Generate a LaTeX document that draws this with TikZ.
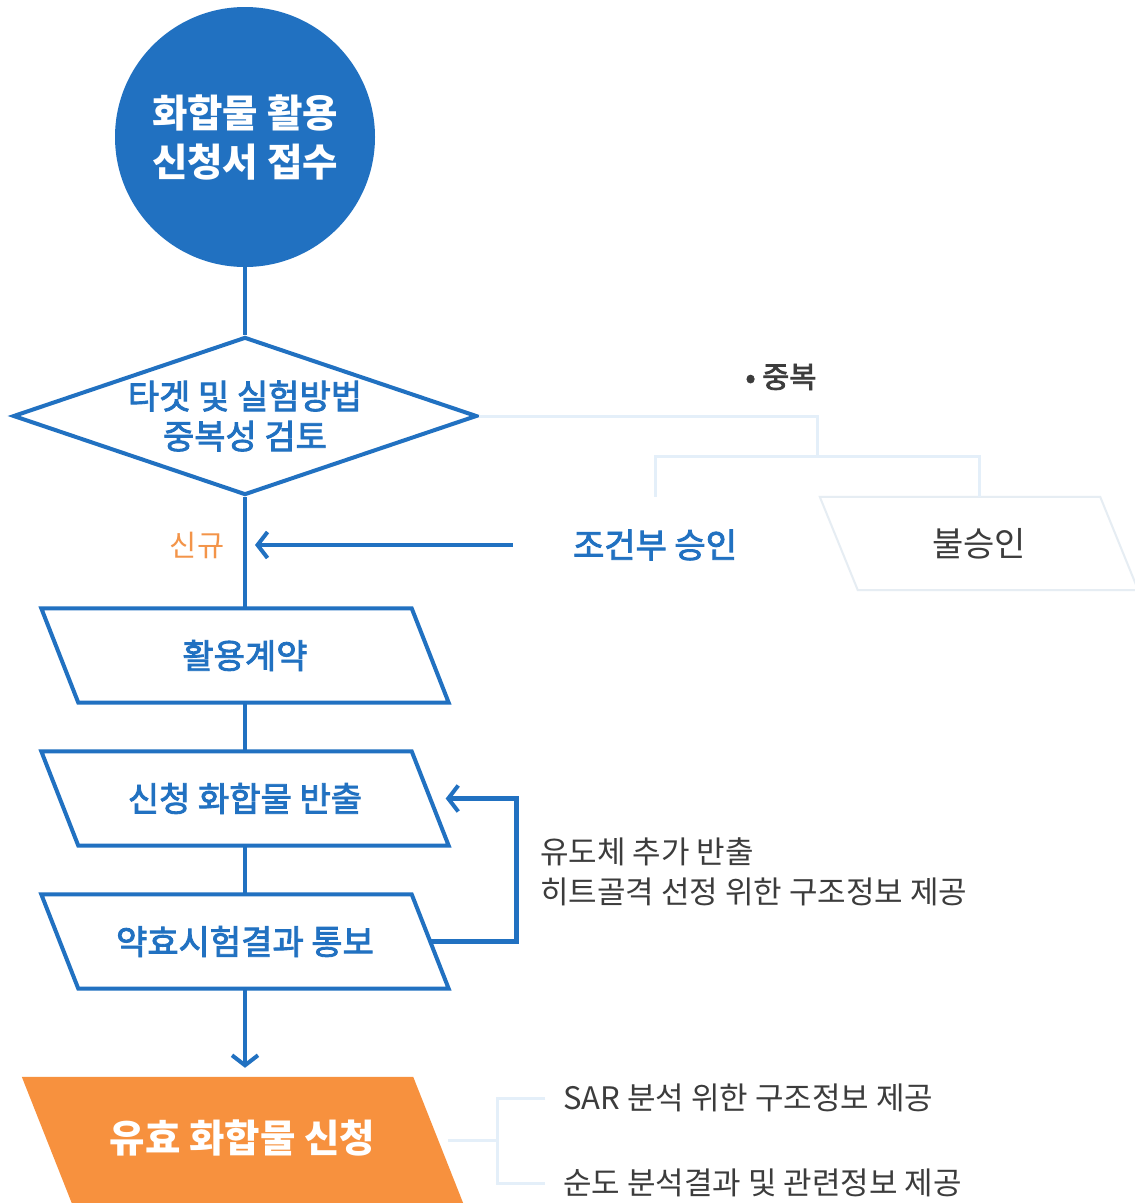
\documentclass[tikz,border=0pt]{standalone}
\usepackage{fontspec}
\setmainfont{Noto Sans CJK KR}
\newfontfamily\medfont[FakeBold=2.5]{Noto Sans CJK KR}
\usetikzlibrary{arrows.meta,shapes.geometric,calc}
\definecolor{mainblue}{HTML}{2171C1}
\definecolor{orangeF}{HTML}{F7913E}
\definecolor{pale}{HTML}{E4EFF9}
\definecolor{paleedge}{HTML}{E6EDF3}
\definecolor{grayT}{HTML}{3C3C3C}
\definecolor{orangeT}{HTML}{F39449}
\newcommand{\paraoutline}[3]{\path[#2] (#1.north west) -- ([xshift=-#3]#1.north east) -- (#1.south east) -- ([xshift=#3]#1.south west) -- cycle;}
\begin{document}
\begin{tikzpicture}[x=1pt,y=-1pt,
  flow/.style={draw=mainblue, line width=4.5pt},
  arrowhd/.style={-{Straight Barb[length=10pt,width=26pt,line width=4pt]}},
  paleline/.style={draw=pale, line width=3pt},
  boxtext/.style={text=mainblue, font=\medfont\fontsize{34}{40}\selectfont, align=center},
  parabox/.style={rectangle, inner sep=0pt, minimum width=407pt, minimum height=94pt},
  note/.style={text=grayT, font=\fontsize{31}{40}\selectfont, align=left, inner sep=0pt, anchor=west},
]
\fill[white] (0,0) rectangle (1135,1203);
\useasboundingbox (0,0) rectangle (1135,1203);

% start circle
\node[circle, fill=mainblue, minimum size=260pt, inner sep=0pt, text=white,
      font=\bfseries\fontsize{38.5}{49}\selectfont, align=center] (start) at (245,137) {화합물 활용\\신청서 접수};

% decision diamond
\node[diamond, draw=mainblue, line width=4pt, fill=white, minimum width=464pt,
      minimum height=158pt, inner sep=0pt] (check) at (245,416) {};
\node[boxtext] (checkt) at (check.center) {타겟 및 실험방법\\중복성 검토};

\coordinate (join) at (245,545);
\node[text=orangeT, font=\fontsize{29.5}{30}\selectfont] (new) at (197,545) {신규};

% process boxes
\node[parabox, boxtext] (contract) at (245,655.5) {활용계약};
\node[parabox, boxtext] (export) at (245,798.5) {신청 화합물 반출};
\node[parabox, boxtext] (result) at (245,941.5) {약효시험결과 통보};
\paraoutline{contract}{draw=mainblue, line width=4pt}{37pt}
\paraoutline{export}{draw=mainblue, line width=4pt}{37pt}
\paraoutline{result}{draw=mainblue, line width=4pt}{37pt}

% final orange box
\node[rectangle, inner sep=0pt, minimum width=441pt, minimum height=126pt] (apply) at (242.5,1140) {};
\paraoutline{apply}{fill=orangeF}{50pt}
\node[text=white, font=\bfseries\fontsize{38.5}{40}\selectfont] (applyt) at ([yshift=2pt]apply.center) {유효 화합물 신청};

% side branch
\node[rectangle, minimum width=284pt, minimum height=96pt, inner sep=0pt, text=mainblue,
      font=\medfont\fontsize{34}{36}\selectfont] (cond) at (655,545) {조건부 승인};
\node[rectangle, minimum width=318pt, minimum height=93pt, inner sep=0pt, text=grayT,
      font=\fontsize{34}{36}\selectfont] (reject) at (979,543.5) {불승인};
\paraoutline{reject}{draw=paleedge, line width=2pt}{38pt}
\node[text=grayT, font=\medfont\fontsize{29.5}{30}\selectfont] (dup) at (781,377) {• 중복};

\coordinate (fork) at ($(cond.north)!0.5!(reject.north) + (0,-40)$);
\draw[paleline] (check.east) -| (fork);
\draw[paleline] (cond.north) |- (fork) -| (reject.north);

% main flow
\draw[flow] (start.south) -- (check.north);
\draw[flow] (check.south) -- (contract.north);
\draw[flow] (contract.south) -- (export.north);
\draw[flow] (export.south) -- (result.north);
\draw[flow, arrowhd, shorten >=9pt] (result.south) -- (result.south |- apply.north);
\draw[flow, arrowhd, shorten >=10pt] (cond.west) -- (join);

% loop back
\draw[flow, arrowhd] ([xshift=-18pt]result.east) -- ++(86,0) |- ([xshift=-3pt]export.east);

% notes
\node[note] (more) at (540,872) {유도체 추가 반출\\히트골격 선정 위한 구조정보 제공};
\node[note] (sar) at (563,1098) {SAR 분석 위한 구조정보 제공};
\node[note] (purity) at (563,1183) {순도 분석결과 및 관련정보 제공};
\draw[paleline] ([xshift=-18pt]sar.west) -- ([xshift=-66pt]sar.west) |- ([xshift=-18pt]purity.west);
\draw[paleline] ([xshift=-15pt]apply.east) -- ([xshift=-66pt]sar.west |- apply.east);
\end{tikzpicture}
\end{document}
